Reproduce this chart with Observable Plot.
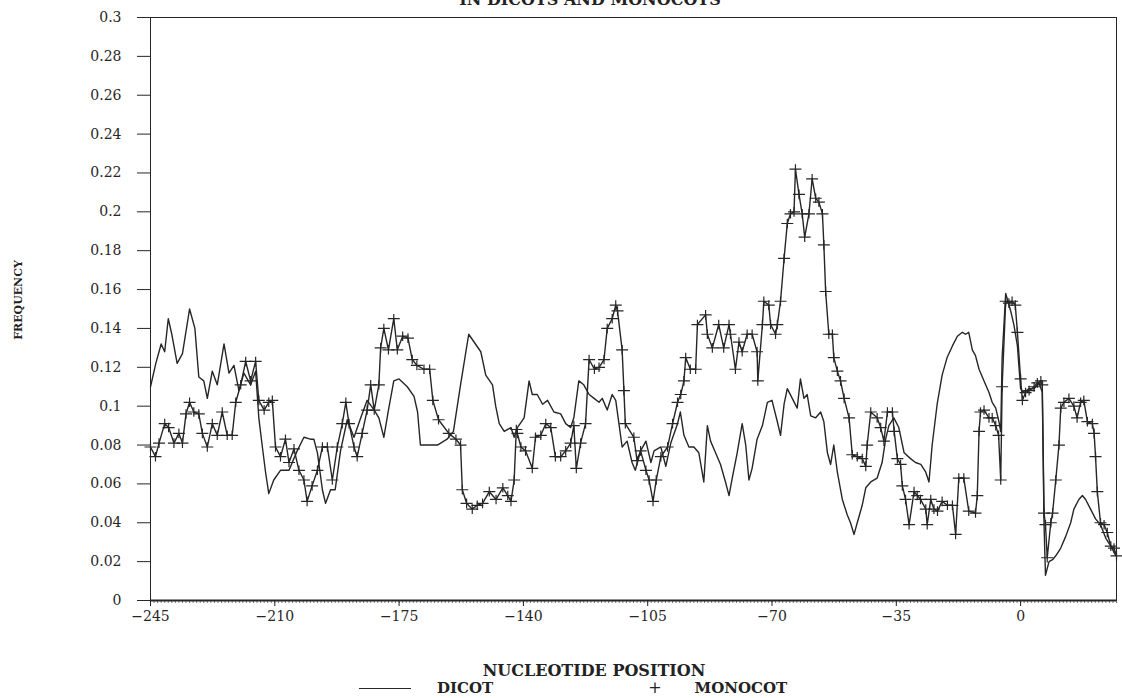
<!DOCTYPE html>
<html><head><meta charset="utf-8">
<script src="https://cdn.jsdelivr.net/npm/d3@7"></script>
<script src="https://cdn.jsdelivr.net/npm/@observablehq/plot@0.6"></script>
<style>
html,body{margin:0;padding:0;background:#fff;overflow:hidden;}
#wrap{position:relative;width:1122px;height:698px;overflow:hidden;font-family:"DejaVu Serif",serif;color:#222;}
#wrap svg{position:absolute;left:0;top:0;}
.t{position:absolute;white-space:nowrap;font-weight:bold;line-height:1;}
</style></head><body><div id="wrap"></div>
<script>
const titleText = "IN DICOTS AND MONOCOTS";
const xLabel = "NUCLEOTIDE POSITION";
const yLabel = "FREQUENCY";
const seriesNames = ["DICOT", "MONOCOT"];
const xTicks = [-245, -210, -175, -140, -105, -70, -35, 0];
const yTicks = [0, 0.02, 0.04, 0.06, 0.08, 0.1, 0.12, 0.14, 0.16, 0.18, 0.2, 0.22, 0.24, 0.26, 0.28, 0.3];
const xDomain = [-245, 27];

const dicotPos = [-245,-243.5,-242,-241,-240,-239,-237.5,-236,-234,-232.5,-231.4,-230,-229,-227.6,-226.2,-224.3,-222.9,-221.5,-220.1,-218.7,-216.8,-215.4,-214.5,-213.5,-212.6,-211.7,-210.3,-208.4,-206,-203.7,-201.8,-200,-199,-198,-196.6,-195.7,-194.3,-193,-191.5,-189.6,-187.7,-185.8,-184,-182,-180.7,-179.3,-178,-176.5,-175,-172.7,-170.8,-169.8,-169,-166.5,-164.2,-161.5,-159.7,-157.7,-155.4,-152,-150.6,-148.7,-147.8,-146.8,-145.4,-143.5,-142.6,-141.7,-139.8,-138.4,-137.5,-136.1,-134.6,-133.2,-131.4,-129.5,-128.1,-126.7,-125.8,-124.4,-123,-121.5,-120.1,-118.7,-117.8,-116.4,-115,-114,-113.1,-112.2,-110.8,-109.4,-108.5,-107,-105.5,-104.1,-103.2,-101.3,-99.9,-98.5,-96.6,-95.8,-94.8,-93.4,-92,-90.6,-89.2,-88.2,-87.3,-85.9,-84.5,-83.1,-82.1,-81.2,-79.8,-78.4,-77.4,-76.5,-75.6,-74.2,-72.7,-71.3,-70,-68.5,-67.6,-66.6,-65.7,-64.3,-62.9,-62,-61,-60.1,-59.1,-57.7,-56.3,-55.4,-54.4,-53.5,-52.6,-51.6,-50.2,-48.8,-47.9,-46.9,-46,-44.6,-43.6,-42.2,-40.4,-39,-38,-37.1,-35.7,-34.3,-32.8,-31,-29.6,-28.1,-26.7,-25.8,-24.9,-23.5,-22.1,-20.7,-19.2,-17.8,-16.4,-15.5,-14.6,-13.6,-12.7,-11.7,-10.3,-8.9,-8,-7,-6.1,-5.6,-5.2,-4.2,-2.8,-1.9,-0.9,0,0.9,2.4,3.8,5.2,6.1,6.6,7,8,9,9.9,11.3,12.7,14.1,15,16.4,17.4,18.3,19.7,21.1,22.5,24,25.4,26.8];
const dicotFreq = [0.110,0.122,0.132,0.128,0.145,0.137,0.122,0.127,0.150,0.140,0.115,0.113,0.104,0.118,0.111,0.132,0.117,0.121,0.108,0.117,0.111,0.118,0.094,0.079,0.066,0.055,0.062,0.067,0.067,0.077,0.084,0.083,0.083,0.076,0.057,0.050,0.057,0.057,0.077,0.093,0.084,0.094,0.103,0.098,0.094,0.084,0.098,0.113,0.114,0.110,0.105,0.097,0.080,0.080,0.080,0.083,0.087,0.111,0.137,0.128,0.116,0.111,0.100,0.091,0.087,0.089,0.084,0.089,0.094,0.113,0.106,0.106,0.101,0.103,0.097,0.096,0.091,0.089,0.094,0.113,0.111,0.106,0.104,0.102,0.104,0.098,0.106,0.103,0.091,0.079,0.082,0.071,0.067,0.077,0.082,0.071,0.077,0.079,0.069,0.081,0.091,0.097,0.085,0.079,0.079,0.076,0.061,0.090,0.082,0.076,0.070,0.061,0.054,0.063,0.076,0.091,0.080,0.062,0.068,0.083,0.090,0.102,0.103,0.092,0.085,0.101,0.109,0.104,0.099,0.114,0.104,0.106,0.095,0.094,0.097,0.092,0.076,0.070,0.080,0.066,0.052,0.044,0.040,0.034,0.040,0.049,0.058,0.061,0.063,0.071,0.083,0.090,0.094,0.089,0.076,0.073,0.071,0.070,0.066,0.061,0.080,0.101,0.116,0.125,0.131,0.136,0.138,0.137,0.138,0.129,0.126,0.119,0.113,0.107,0.102,0.099,0.092,0.087,0.125,0.158,0.149,0.142,0.131,0.109,0.107,0.109,0.109,0.112,0.107,0.039,0.013,0.020,0.021,0.023,0.027,0.033,0.040,0.047,0.052,0.054,0.052,0.047,0.042,0.039,0.032,0.028,0.023];

const monocotPos = [-245,-243.6,-242.6,-241,-239.9,-238.4,-237,-236,-235,-234,-232.8,-231.4,-230.4,-229,-227.6,-226.2,-224.8,-223.4,-222,-221,-219.6,-218.2,-216.8,-215.4,-214.5,-213,-211.7,-210.7,-209.8,-208.4,-207,-206,-204.6,-203.2,-201.8,-200.9,-199.5,-198,-196.6,-195.2,-193.8,-192.4,-191,-190,-189.1,-187.7,-186.8,-185.4,-184,-183,-182,-180.7,-180.2,-179.3,-178,-176.5,-175.5,-174,-172.5,-171.3,-170,-168,-166.4,-165.5,-163.9,-161,-159,-157.7,-157.2,-156,-154.4,-153,-151.5,-149.6,-147.7,-145.8,-144.4,-143.5,-142.6,-142,-141.7,-140.7,-139.4,-137.5,-136.6,-135.1,-133.7,-132.3,-131,-129.5,-128.1,-126.7,-125.8,-125.1,-123.9,-122.5,-121.5,-120,-118.7,-117.3,-116.4,-115,-114,-113.5,-112.2,-111.7,-111.3,-108.9,-108,-107,-105.5,-104.6,-103.5,-102.6,-101.3,-99.4,-98,-96.6,-95.7,-94.8,-94.3,-93,-91.5,-91,-88.7,-88.2,-86.8,-85,-83.6,-82.1,-81.7,-80.3,-79.3,-78.4,-77,-75.6,-74.2,-74,-72.7,-72.3,-70.9,-70.4,-69,-68.5,-67.6,-66.6,-65.7,-64.8,-63.8,-63.4,-62.4,-61.5,-60.8,-59.6,-58.7,-57.7,-56.8,-55.8,-55.4,-54.9,-54,-53,-52.6,-51.6,-50.7,-49.7,-48.3,-47.4,-46,-44.6,-43.6,-43.2,-42.2,-40.4,-39.4,-38.5,-37.5,-36.1,-35.6,-34.7,-33.8,-33.3,-32.4,-31.4,-30,-29.1,-28.2,-26.7,-26.3,-25.3,-24.4,-23.4,-22.1,-20.6,-19.2,-18.3,-17.4,-16,-14.6,-12.7,-12.2,-11.7,-11.3,-10.3,-8.9,-8,-7,-6.2,-5.6,-5.2,-4.2,-3.3,-2.4,-1.5,-0.9,0,0.5,1.4,2.4,3.8,4.7,5.7,6.1,6.6,7,7.5,8.5,9,9.9,10.8,11.3,12.2,13.6,15,15.9,16.9,17.8,18.8,20.2,20.7,21.1,21.6,22.5,23.5,24.4,25.4,26.3,27];
const monocotFreq = [0.079,0.074,0.081,0.091,0.089,0.081,0.086,0.081,0.096,0.102,0.097,0.096,0.086,0.079,0.091,0.085,0.097,0.085,0.085,0.102,0.111,0.123,0.113,0.123,0.103,0.098,0.102,0.103,0.079,0.074,0.083,0.071,0.078,0.067,0.062,0.051,0.059,0.067,0.079,0.079,0.062,0.079,0.091,0.102,0.091,0.079,0.074,0.086,0.098,0.111,0.098,0.111,0.130,0.140,0.129,0.145,0.129,0.136,0.135,0.124,0.121,0.119,0.119,0.103,0.093,0.086,0.083,0.080,0.057,0.050,0.047,0.049,0.050,0.056,0.052,0.058,0.054,0.051,0.062,0.088,0.086,0.079,0.077,0.068,0.084,0.085,0.091,0.089,0.074,0.074,0.077,0.081,0.090,0.068,0.081,0.091,0.124,0.119,0.120,0.124,0.140,0.145,0.152,0.149,0.129,0.108,0.091,0.084,0.072,0.077,0.067,0.062,0.051,0.062,0.074,0.079,0.091,0.102,0.106,0.113,0.125,0.119,0.119,0.142,0.147,0.137,0.130,0.142,0.130,0.142,0.137,0.119,0.133,0.128,0.137,0.137,0.128,0.113,0.142,0.154,0.152,0.142,0.137,0.142,0.154,0.176,0.194,0.199,0.200,0.222,0.209,0.199,0.187,0.199,0.217,0.207,0.205,0.199,0.183,0.159,0.137,0.137,0.125,0.118,0.113,0.104,0.094,0.075,0.074,0.073,0.069,0.080,0.097,0.094,0.089,0.082,0.097,0.097,0.087,0.073,0.070,0.059,0.052,0.039,0.056,0.054,0.052,0.047,0.039,0.052,0.047,0.046,0.051,0.049,0.049,0.034,0.063,0.063,0.046,0.045,0.054,0.087,0.097,0.098,0.094,0.094,0.090,0.085,0.062,0.110,0.154,0.153,0.154,0.152,0.138,0.114,0.103,0.107,0.108,0.110,0.112,0.113,0.111,0.045,0.039,0.022,0.040,0.045,0.062,0.080,0.099,0.102,0.104,0.100,0.094,0.102,0.103,0.092,0.091,0.086,0.074,0.056,0.040,0.039,0.035,0.028,0.027,0.023];

const dicot = dicotPos.map((x, i) => ({x, y: dicotFreq[i]}));
const monocot = monocotPos.map((x, i) => ({x, y: monocotFreq[i]}));

const plusSymbol = {
  draw(ctx, size) {
    const r = Math.sqrt(size / Math.PI);
    ctx.moveTo(-r, 0); ctx.lineTo(r, 0);
    ctx.moveTo(0, -r * 0.8); ctx.lineTo(0, r * 0.8);
  }
};
const ink = "#262626";
const yFmt = d => d === 0 ? "0" : d3.format("~g")(d);

const chart = Plot.plot({
  width: 1122,
  height: 640,
  marginLeft: 150,
  marginRight: 6,
  marginTop: 17,
  marginBottom: 40,
  style: {fontFamily: "'DejaVu Serif', serif", fontSize: "14px", color: ink, background: "transparent"},
  x: {domain: xDomain},
  y: {domain: [0, 0.3]},
  marks: [
    Plot.axisX({ticks: d3.range(-245, 28, 1), tickSize: 3, tickFormat: () => "", label: null, stroke: "#555", strokeWidth: 0.8}),
    Plot.axisX({ticks: xTicks, tickSize: 6, tickPadding: 5, label: null, stroke: ink}),
    Plot.axisY({ticks: yTicks, tickSize: 13, tickPadding: 16, tickFormat: yFmt, label: null, stroke: ink}),
    Plot.frame({stroke: ink, strokeWidth: 1}),
    Plot.ruleY([0], {stroke: ink, strokeWidth: 2}),
    Plot.line(dicot, {x: "x", y: "y", stroke: ink, strokeWidth: 1.4}),
    Plot.line(monocot, {x: "x", y: "y", stroke: ink, strokeWidth: 1.4}),
    Plot.dot(monocot, {x: "x", y: "y", symbol: plusSymbol, r: 6, stroke: ink, strokeWidth: 1.2, fill: "none"})
  ]
});

const wrap = document.getElementById("wrap");
wrap.appendChild(chart);

function addText(txt, css) {
  const d = document.createElement("div");
  d.className = "t";
  d.textContent = txt;
  Object.assign(d.style, css);
  wrap.appendChild(d);
  return d;
}
addText(titleText, {left: "0", width: "1180px", textAlign: "center", top: "-8px", fontSize: "16px"});
addText(xLabel, {left: "0", width: "1188px", textAlign: "center", top: "663px", fontSize: "16px"});
addText(yLabel, {left: "18px", top: "300px", fontSize: "11px", transform: "translate(-50%,-50%) rotate(-90deg)"});
// legend
const lg = document.createElement("div");
lg.style.cssText = "position:absolute;top:680px;left:359px;display:flex;align-items:center;font-weight:bold;font-size:15px;line-height:1;";
lg.innerHTML = `<span style="display:inline-block;width:52px;border-top:1.4px solid ${ink};margin-right:26px"></span><span>${seriesNames[0]}</span><span style="margin-left:155px;font-weight:normal;font-size:16px;line-height:1">+</span><span style="margin-left:33px">${seriesNames[1]}</span>`;
wrap.appendChild(lg);
</script>
</body></html>
